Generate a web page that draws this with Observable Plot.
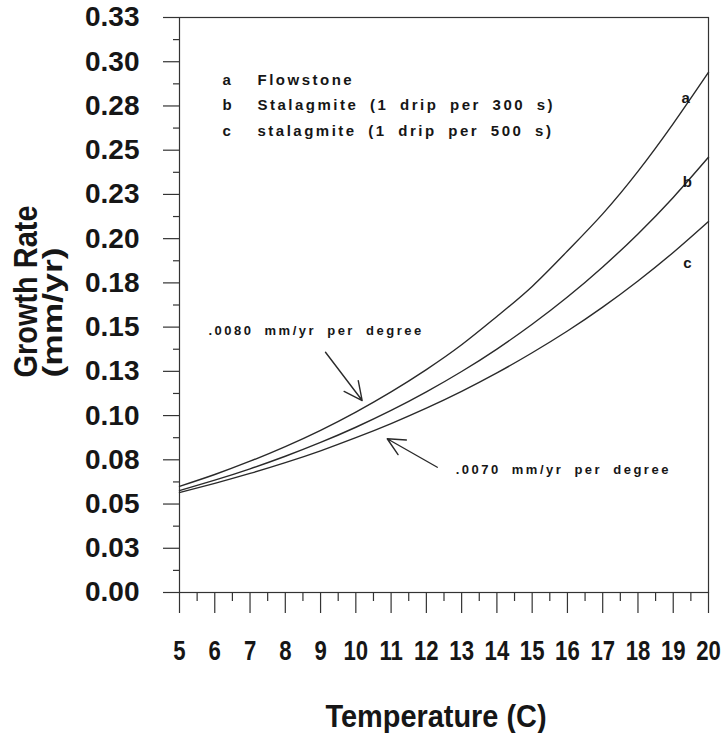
<!DOCTYPE html>
<html><head><meta charset="utf-8">
<script src="https://cdn.jsdelivr.net/npm/d3@7"></script>
<script src="https://cdn.jsdelivr.net/npm/@observablehq/plot@0.6"></script>
<style>
html,body{margin:0;padding:0;background:#fff;}
#chart{width:721px;height:733px;}
</style></head><body><div id="chart"></div>
<script>
// ---- data ----
const temperatures = [5,6,7,8,9,10,11,12,13,14,15,16,17,18,19,20];
const rateFlowstone = [0.060,0.0667,0.0742,0.0825,0.0917,0.102,0.1134,0.126,0.140,0.156,0.173,0.193,0.214,0.238,0.265,0.294];
const rateStalagmite300 = [0.0576,0.0635,0.0699,0.0770,0.0848,0.0934,0.1029,0.1134,0.1249,0.1376,0.1516,0.167,0.184,0.2027,0.2233,0.246];
const rateStalagmite500 = [0.0565,0.0617,0.0673,0.0734,0.0801,0.0875,0.0955,0.1042,0.1137,0.1241,0.1355,0.1478,0.1613,0.1761,0.1922,0.2097];
const seriesKeys = ["a","b","c"];
const seriesNames = ["Flowstone","Stalagmite (1 drip per 300 s)","stalagmite (1 drip per 500 s)"];

const xTicks = [5,6,7,8,9,10,11,12,13,14,15,16,17,18,19,20];
const xMinorTicks = [5.5,6.5,7.5,8.5,9.5,10.5,11.5,12.5,13.5,14.5,15.5,16.5,17.5,18.5,19.5];
const yTicks = [0,0.025,0.05,0.075,0.1,0.125,0.15,0.175,0.2,0.225,0.25,0.275,0.3,0.325];
const yTickLabels = ["0.00","0.03","0.05","0.08","0.10","0.13","0.15","0.18","0.20","0.23","0.25","0.28","0.30","0.33"];
const yMinorTicks = [0.0125,0.0375,0.0625,0.0875,0.1125,0.1375,0.1625,0.1875,0.2125,0.2375,0.2625,0.2875,0.3125];

const xTitle = "Temperature (C)";
const yTitle1 = "Growth Rate";
const yTitle2 = "(mm/yr)";

const annotationTexts = [".0080 mm/yr per degree", ".0070 mm/yr per degree"];
const annotationT = [5.82, 12.83];
const annotationRate = [0.1478, 0.0692];
const arrowFromT = [9.14, 12.31];
const arrowFromRate = [0.1358, 0.0708];
const arrowToT = [10.18, 10.89];
const arrowToRate = [0.1085, 0.0869];

const curveLabelT = [19.35, 19.4, 19.4];
const curveLabelRate = [0.2792, 0.2317, 0.186];

// ---- build table ----
const seriesValues = [rateFlowstone, rateStalagmite300, rateStalagmite500];
const table = [];
seriesKeys.forEach((k, s) => temperatures.forEach((t, i) => table.push({t, rate: seriesValues[s][i], series: k})));
const arrows = arrowFromT.map((d, i) => ({x1: d, y1: arrowFromRate[i], x2: arrowToT[i], y2: arrowToRate[i]}));
const annots = annotationTexts.map((d, i) => ({text: d, t: annotationT[i], rate: annotationRate[i]}));
const curveLabels = seriesKeys.map((d, i) => ({text: d, t: curveLabelT[i], rate: curveLabelRate[i]}));

const ink = "#161616";
const plot = Plot.plot({
  width: 721, height: 733,
  marginLeft: 179, marginRight: 13, marginTop: 17, marginBottom: 141,
  style: {fontFamily: "'Liberation Sans', Arial, sans-serif", fontWeight: "bold", color: ink, background: "#fff"},
  x: {domain: [5, 20]},
  y: {domain: [0, 0.325]},
  marks: [
    Plot.frame({stroke: "#333", strokeWidth: 1.2}),
    Plot.axisY({ticks: yTicks, tickSize: 16, tickPadding: 24, tickFormat: d => yTickLabels[yTicks.indexOf(d)], fontSize: 28, fontWeight: "bold", label: null, stroke: "#333", strokeWidth: 1.2}),
    Plot.axisY({ticks: yMinorTicks, tickSize: 6, tickFormat: () => "", label: null, stroke: "#333", strokeWidth: 1.2}),
    Plot.axisX({ticks: xTicks, tickSize: 21, tickPadding: 27, tickFormat: d => String(d), fontSize: 27, fontWeight: "bold", label: null, stroke: "#333", strokeWidth: 1.2}),
    Plot.axisX({ticks: xMinorTicks, tickSize: 9, tickFormat: () => "", label: null, stroke: "#333", strokeWidth: 1.2}),
    Plot.line(table, {x: "t", y: "rate", z: "series", curve: "natural", stroke: "#2a2a2a", strokeWidth: 1.4}),
    Plot.arrow(arrows, {x1: "x1", y1: "y1", x2: "x2", y2: "y2", stroke: "#2a2a2a", strokeWidth: 1.4, headLength: 30, headAngle: 52}),
    Plot.text(annots, {x: "t", y: "rate", text: "text", textAnchor: "start", fontSize: 13, fontWeight: "bold", fill: ink}),
    Plot.text(curveLabels, {x: "t", y: "rate", text: "text", fontSize: 15, fontWeight: "bold", fill: ink}),
    Plot.text([seriesKeys.join("\n")], {text: d => d, frameAnchor: "top-left", dx: 43, dy: 49.3, lineAnchor: "top", textAnchor: "start", lineHeight: 1.7, fontSize: 15, fontWeight: "bold", fill: ink}),
    Plot.text([seriesNames.join("\n")], {text: d => d, frameAnchor: "top-left", dx: 78, dy: 49.3, lineAnchor: "top", textAnchor: "start", lineHeight: 1.7, fontSize: 15, fontWeight: "bold", fill: ink}),
    Plot.text([xTitle], {text: d => d, frameAnchor: "bottom", dx: -8, dy: 134, fontSize: 32, fontWeight: "bold", fill: ink}),
    Plot.text([yTitle1], {text: d => d, frameAnchor: "left", rotate: -90, textAnchor: "start", dx: -153, dy: 72.5, fontSize: 34, fontWeight: "bold", fill: ink}),
    Plot.text([yTitle2], {text: d => d, frameAnchor: "left", rotate: -90, textAnchor: "start", dx: -126, dy: 72.5, fontSize: 27, fontWeight: "bold", fill: ink})
  ]
});
document.getElementById("chart").appendChild(plot);

const sel = d3.select(plot);
const allText = sel.selectAll("text");
const byContent = f => allText.filter(function() { return f(this.textContent); });
byContent(s => annotationTexts.includes(s) || s.startsWith(seriesNames[0]))
  .style("letter-spacing", "2.5px").style("word-spacing", "5px");
byContent(s => s.startsWith(seriesNames[0])).selectAll("tspan")
  .style("letter-spacing", "2.5px").style("word-spacing", "5px");
function fitLength(str, len) {
  byContent(s => s === str).attr("textLength", len).attr("lengthAdjust", "spacingAndGlyphs");
}
fitLength(xTitle, 221);
fitLength(yTitle1, 172);
fitLength(yTitle2, 130);
const xLabelStrings = xTicks.map(String);
byContent(s => xLabelStrings.includes(s)).each(function() {
  const w = this.getComputedTextLength();
  if (w > 0) d3.select(this).attr("textLength", w * 0.82).attr("lengthAdjust", "spacingAndGlyphs");
});
</script></body></html>
